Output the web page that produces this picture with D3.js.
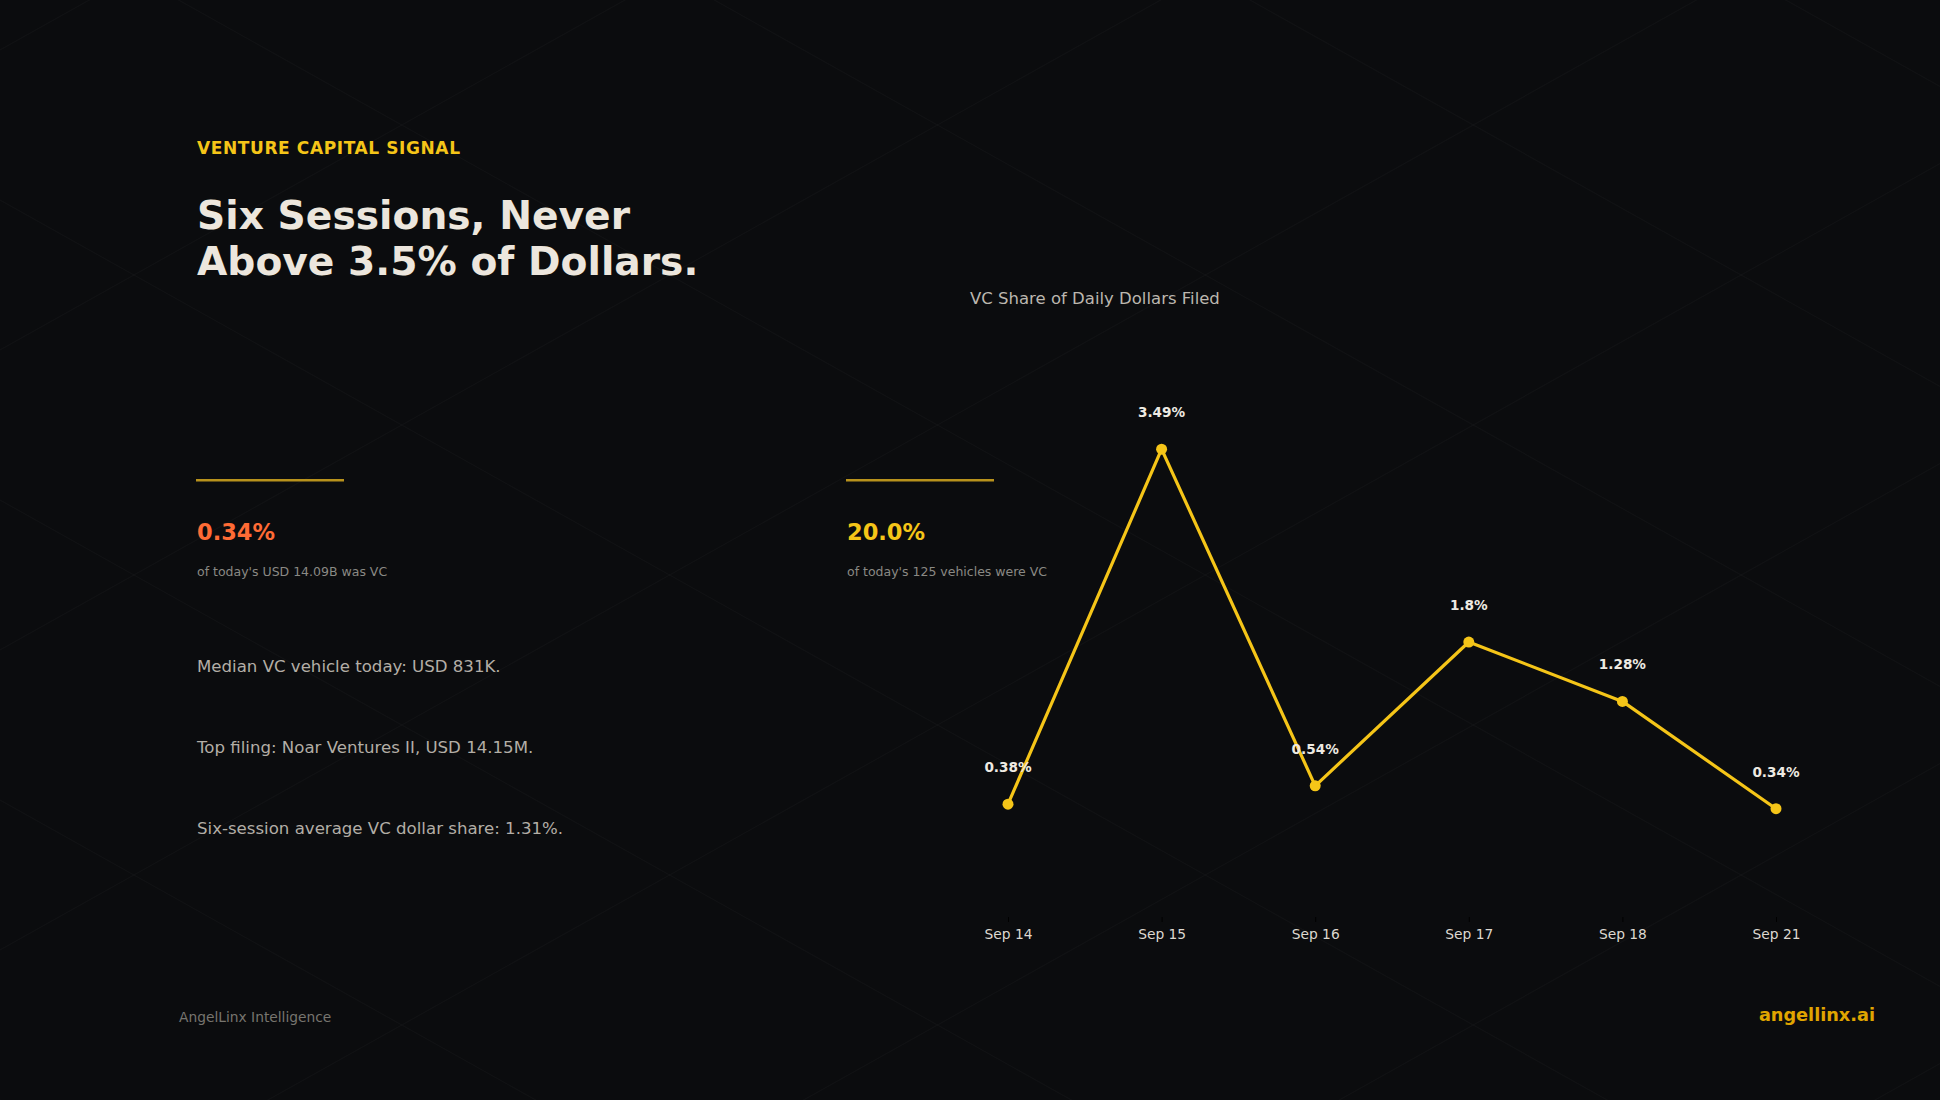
<!DOCTYPE html>
<html>
<head>
<meta charset="utf-8">
<script src="https://cdn.jsdelivr.net/npm/d3@7"></script>
<style>
  html, body { margin: 0; padding: 0; background: #0b0c0e; }
  svg { display: block; }
  text { font-family: "DejaVu Sans", sans-serif; }
</style>
</head>
<body>
<svg id="chart" width="1940" height="1100"></svg>
<script>
// ---- data ----
const categories = ["Sep 14", "Sep 15", "Sep 16", "Sep 17", "Sep 18", "Sep 21"];
const vcShare = [0.38, 3.49, 0.54, 1.8, 1.28, 0.34];
const valueLabels = ["0.38%", "3.49%", "0.54%", "1.8%", "1.28%", "0.34%"];

const kicker = "VENTURE CAPITAL SIGNAL";
const titleLines = ["Six Sessions, Never", "Above 3.5% of Dollars."];
const statValues = ["0.34%", "20.0%"];
const statNotes = ["of today's USD 14.09B was VC", "of today's 125 vehicles were VC"];
const bullets = [
  "Median VC vehicle today: USD 831K.",
  "Top filing: Noar Ventures II, USD 14.15M.",
  "Six-session average VC dollar share: 1.31%."
];
const chartTitle = "VC Share of Daily Dollars Filed";
const footerLeft = "AngelLinx Intelligence";
const footerRight = "angellinx.ai";

// ---- drawing ----
const W = 1940, H = 1100;
const svg = d3.select("#chart");

svg.append("rect").attr("width", W).attr("height", H).attr("fill", "#0b0c0e");

// faint diagonal lattice
const lattice = svg.append("g").attr("stroke", "#ffffff").attr("stroke-opacity", 0.028).attr("stroke-width", 1.2);
const slope = 0.56, step = 300;
for (let c = -2200; c < 2400; c += step) {
  lattice.append("line").attr("x1", 0).attr("y1", c).attr("x2", W).attr("y2", c + slope * W);
  lattice.append("line").attr("x1", 0).attr("y1", c + 150).attr("x2", W).attr("y2", c + 150 - slope * W);
}

// left panel text
svg.append("text").attr("x", 197).attr("y", 154)
  .attr("font-size", 17).attr("font-weight", "bold").attr("letter-spacing", 0.6)
  .attr("fill", "#F5C518").text(kicker);

svg.append("g").selectAll("text").data(titleLines).join("text")
  .attr("x", 197).attr("y", (d, i) => 229 + i * 46)
  .attr("font-size", 39.2).attr("font-weight", "bold").attr("fill", "#ECE6DD")
  .text(d => d);

const statX = [197, 847];
const statColors = ["#FF6B35", "#F5C518"];
statX.forEach((x, i) => {
  svg.append("rect").attr("x", x - 1).attr("y", 479).attr("width", 148).attr("height", 2.5).attr("fill", "#B8921C");
  svg.append("text").attr("x", x).attr("y", 540).attr("font-size", 22.5).attr("font-weight", "bold")
    .attr("fill", statColors[i]).text(statValues[i]);
  svg.append("text").attr("x", x).attr("y", 576).attr("font-size", 12.5)
    .attr("fill", "#8a8984").text(statNotes[i]);
});

svg.append("g").selectAll("text").data(bullets).join("text")
  .attr("x", 197).attr("y", (d, i) => 672 + i * 81)
  .attr("font-size", 16.6).attr("fill", "#B3AEA6").text(d => d);

// chart
svg.append("text").attr("x", 970).attr("y", 304).attr("font-size", 16.5)
  .attr("fill", "#BCB7AF").text(chartTitle);

const x = d3.scalePoint().domain(categories).range([1008, 1776]);
const y = d3.scaleLinear().domain([0, d3.max(vcShare) * 1.1]).range([847.5, 409.3]);

const axis = svg.append("g").attr("transform", "translate(0,917)")
  .call(d3.axisBottom(x).tickSize(5).tickPadding(7));
axis.select(".domain").remove();
axis.selectAll(".tick line").attr("stroke", "#000000").attr("stroke-width", 1);
axis.selectAll(".tick text").attr("fill", "#DDD8D0").attr("font-size", 13.8)
  .attr("font-family", "DejaVu Sans, sans-serif");

const pts = categories.map((c, i) => ({ c, v: vcShare[i], label: valueLabels[i] }));

svg.append("path").datum(pts)
  .attr("fill", "none").attr("stroke", "#F5C518").attr("stroke-width", 3.2)
  .attr("stroke-linejoin", "round")
  .attr("d", d3.line().x(d => x(d.c)).y(d => y(d.v)));

svg.append("g").selectAll("circle").data(pts).join("circle")
  .attr("cx", d => x(d.c)).attr("cy", d => y(d.v)).attr("r", 5.5)
  .attr("fill", "#F5C518");

svg.append("g").selectAll("text").data(pts).join("text")
  .attr("x", d => x(d.c)).attr("y", d => y(d.v) - 32)
  .attr("text-anchor", "middle").attr("font-size", 13.6).attr("font-weight", "bold")
  .attr("fill", "#EEEAE2").text(d => d.label);

// footer
svg.append("text").attr("x", 179).attr("y", 1022).attr("font-size", 13.8)
  .attr("fill", "#77756f").text(footerLeft);
svg.append("text").attr("x", 1875).attr("y", 1021).attr("text-anchor", "end")
  .attr("font-size", 17.7).attr("font-weight", "bold").attr("fill", "#E0A500").text(footerRight);
</script>
</body>
</html>
